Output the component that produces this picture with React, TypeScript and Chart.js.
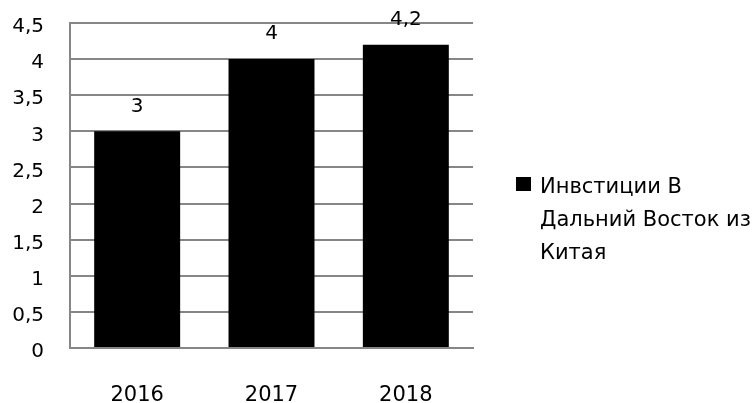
import React, { useEffect, useRef } from "react";
import { Chart, registerables } from "chart.js";

Chart.register(...registerables);

const categories = ["2016", "2017", "2018"];
const values = [3, 4, 4.2];
const seriesLabel = "Инвстиции В Дальний Восток из Китая";
const legendLines = ["Инвстиции В", "Дальний Восток из", "Китая"];

const FONT = "'DejaVu Sans', sans-serif";
const fmt = (v: number) => String(v).replace(".", ",");

export default function App() {
  const ref = useRef<HTMLCanvasElement | null>(null);
  useEffect(() => {
    document.body.style.margin = "0";
    const canvas = ref.current;
    if (!canvas) return;

    const labelPlugin = {
      id: "valueLabels",
      afterDatasetsDraw(chart: any) {
        const ctx = chart.ctx;
        const meta = chart.getDatasetMeta(0);
        ctx.save();
        ctx.font = `20px ${FONT}`;
        ctx.fillStyle = "#000";
        ctx.textAlign = "center";
        ctx.textBaseline = "middle";
        meta.data.forEach((bar: any, i: number) => {
          ctx.fillText(fmt(values[i]), bar.x, bar.y - 25);
        });
        ctx.restore();
      },
      afterDraw(chart: any) {
        const ctx = chart.ctx;
        const ds = chart.data.datasets[0];
        ctx.save();
        ctx.fillStyle = ds.backgroundColor;
        ctx.fillRect(516, 177, 15, 14);
        ctx.font = `21px ${FONT}`;
        ctx.fillStyle = "#000";
        ctx.textAlign = "left";
        ctx.textBaseline = "middle";
        legendLines.forEach((line, i) => {
          ctx.fillText(line, 540, 188 + i * 33);
        });
        ctx.restore();
      },
    };

    const chart = new Chart(canvas, {
      type: "bar",
      data: {
        labels: categories,
        datasets: [
          {
            label: seriesLabel,
            data: values,
            backgroundColor: "#000000",
            categoryPercentage: 1,
            barPercentage: 0.64,
          },
        ],
      },
      options: {
        animation: false,
        responsive: false,
        layout: { padding: { top: 23, right: 279, left: 0, bottom: 0 } },
        plugins: {
          legend: { display: false },
          tooltip: { enabled: false },
        },
        scales: {
          x: {
            grid: { display: false, drawTicks: false },
            border: { display: true, color: "#868686", width: 2 },
            ticks: {
              color: "#000",
              font: { family: FONT, size: 21 },
              padding: 35,
            },
            afterFit(scale: any) {
              scale.height = 55;
              scale.paddingLeft = 0;
              scale.paddingRight = 0;
            },
          },
          y: {
            min: 0,
            max: 4.5,
            ticks: {
              stepSize: 0.5,
              color: "#000",
              font: { family: FONT, size: 20 },
              padding: 26,
              labelOffset: 4,
              callback: (v: any) => fmt(Number(v)),
            },
            grid: { color: "#868686", lineWidth: 2, drawTicks: false },
            border: { display: true, color: "#868686", width: 2 },
            afterFit(scale: any) {
              scale.width = 70;
              scale.paddingTop = 0;
              scale.paddingBottom = 0;
            },
          },
        },
      },
      plugins: [labelPlugin],
    });
    return () => chart.destroy();
  }, []);
  return (
    <div style={{ width: 752, height: 403, background: "#fff" }}>
      <canvas ref={ref} width={752} height={403} />
    </div>
  );
}
